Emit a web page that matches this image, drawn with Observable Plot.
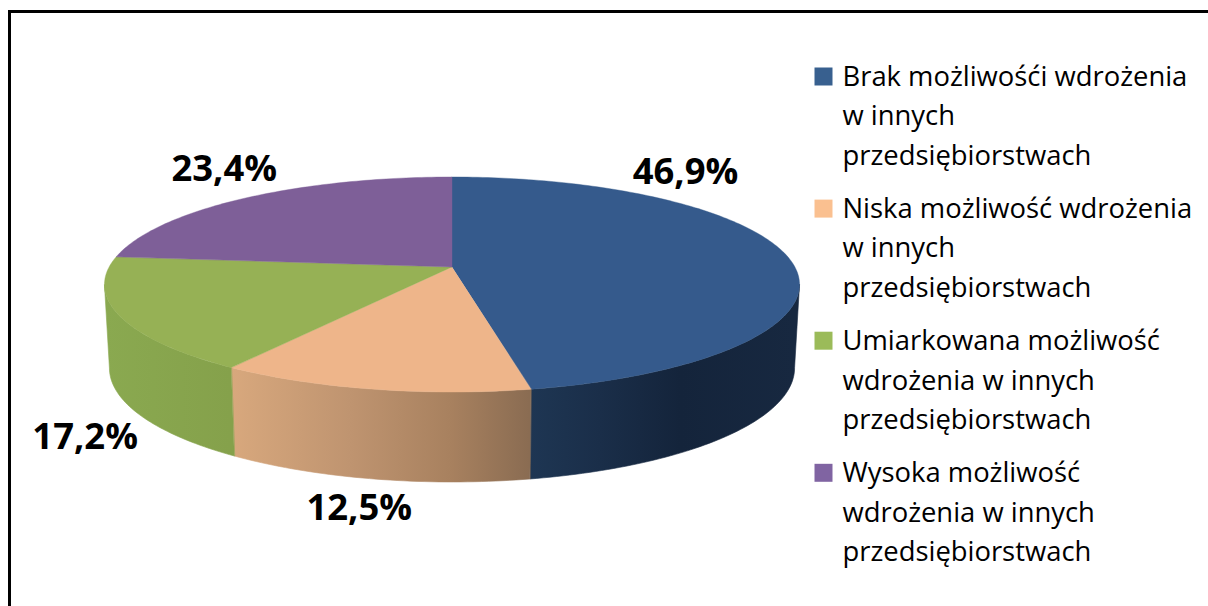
<!DOCTYPE html>
<html lang="pl">
<head>
<meta charset="utf-8">
<style>html,body{margin:0;padding:0;background:#fff}svg{display:block}</style>
<script src="https://cdn.jsdelivr.net/npm/d3@7"></script>
<script src="https://cdn.jsdelivr.net/npm/@observablehq/plot@0.6"></script>
</head>
<body>
<script>
// ---- data ----
const categories = [
  "Brak możliwośći wdrożenia\nw innych\nprzedsiębiorstwach",
  "Niska możliwość wdrożenia\nw innych\nprzedsiębiorstwach",
  "Umiarkowana możliwość\nwdrożenia w innych\nprzedsiębiorstwach",
  "Wysoka możliwość\nwdrożenia w innych\nprzedsiębiorstwach"
];
const shares = [46.9, 12.5, 17.2, 23.4];
const shareLabels = ["46,9%", "12,5%", "17,2%", "23,4%"];

// ---- styles ----
const topColors = ["#355a8c", "#eeb58a", "#96b155", "#7e5f98"];
const swatchColors = ["#38608f", "#fac090", "#9bbb59", "#8064a2"];
const sideRamps = [
  {x: [530, 600, 680, 794], c: ["#1e3653", "#1a2e49", "#14243b", "#172840"]},
  {x: [231, 350, 450, 529], c: ["#d8a87d", "#bf9470", "#a8815f", "#8a6c52"]},
  {x: [104, 231], c: ["#8aa950", "#85a14b"]},
  {x: [104, 231], c: ["#8aa950", "#85a14b"]}
];
const labelOffsets = [[-103, -85], [-13, 119], [-34, 122], [-23, -29]];

// ---- perspective model of the tilted disc (angle in degrees, clockwise from top) ----
const k = 0.1628, cx = 452;
const topDisc = {y0: 267, A: 61.2, C: 342.9};
const botDisc = {y0: 349.5, A: 54, C: 338};
function project(d, deg) {
  const t = deg * Math.PI / 180, u = Math.sin(t), v = -Math.cos(t), w = 1 - k * v;
  return {x: cx + d.C * u / w, y: (d.y0 + d.A * v) / w};
}
const seq = (a, b, step) => {
  const n = Math.max(1, Math.ceil((b - a) / step));
  return d3.range(n + 1).map(i => a + (b - a) * i / n);
};

const total = d3.sum(shares);
let acc = 0;
const slices = shares.map((s, i) => {
  const start = acc / total * 360; acc += s;
  return {i, start, end: acc / total * 360, mid: (start + (acc / total * 360)) / 2};
});

// top face: a ribbon from the apex to the rim
const faceRows = slices.flatMap(sl => seq(sl.start, sl.end, 1).map(a => {
  const p = project(topDisc, a);
  return {slice: sl.i, x1: cx, y1: topDisc.y0, x2: p.x, y2: p.y, fill: topColors[sl.i]};
}));

// visible side wall: one ribbon per slice between the top rim and the bottom rim
const tangent = Math.acos(k) * 180 / Math.PI;
const visA = 180 - tangent, visB = 180 + tangent;
const sideRows = slices.flatMap(sl => {
  const a = Math.max(sl.start, visA), b = Math.min(sl.end, visB);
  if (b <= a) return [];
  return seq(a, b, 1).map(g => {
    const t = project(topDisc, g), o = project(botDisc, g);
    return {slice: sl.i, x1: t.x, y1: t.y, x2: o.x, y2: o.y};
  });
});

const labels = slices.map(sl => {
  const p = project(topDisc, sl.mid);
  return {x: p.x, y: p.y, dx: labelOffsets[sl.i][0], dy: labelOffsets[sl.i][1], text: shareLabels[sl.i]};
});

const legendRows = categories.map((text, i) => ({
  text, fill: swatchColors[i], y: 76 + i * 132.1
}));

const legendSize = 27.4;
const legendLead = 39.3;
const legendFont = "Open Sans";

// horizontal shading of each side wall, placed through the chart's x scale
const sideGradients = (index, scales) => {
  const defs = d3.create("svg:defs");
  sideRamps.forEach((r, i) => {
    const [x0, x1] = d3.extent(r.x);
    const g = defs.append("linearGradient")
      .attr("id", `side${i}`).attr("gradientUnits", "userSpaceOnUse")
      .attr("x1", scales.x(x0)).attr("x2", scales.x(x1)).attr("y1", 0).attr("y2", 0);
    r.x.forEach((x, j) => g.append("stop")
      .attr("offset", (x - x0) / (x1 - x0)).attr("stop-color", r.c[j]));
  });
  return defs.node();
};

const sideMarks = slices.map(sl => Plot.area(sideRows.filter(d => d.slice === sl.i), {
  x1: "x1", y1: "y1", x2: "x2", y2: "y2",
  fill: `url(#side${sl.i})`, stroke: `url(#side${sl.i})`, strokeWidth: 0.6
}));

const chart = Plot.plot({
  width: 1208, height: 606,
  margin: 0,
  style: {background: "#fff", overflow: "hidden"},
  x: {domain: [0, 1208], range: [0, 1208], axis: null},
  y: {domain: [0, 606], range: [0, 606], axis: null},
  color: {type: "identity"},
  marks: [
    Plot.ruleY([11], {x1: 8, x2: 1208, stroke: "#000", strokeWidth: 3}),
    Plot.ruleX([9], {y1: 10, y2: 606, stroke: "#000", strokeWidth: 3}),
    sideGradients,
    ...sideMarks,
    Plot.area(faceRows, {x1: "x1", y1: "y1", x2: "x2", y2: "y2", z: "slice", fill: "fill", stroke: "fill", strokeWidth: 0.4}),
    ...labels.map(l => Plot.text([l], {
      x: "x", y: "y", text: "text", dx: l.dx, dy: l.dy,
      fontFamily: legendFont, fontWeight: 700, fontSize: 36.4, fill: "#000"
    })),
    Plot.dot(legendRows, {x: () => 823, y: "y", symbol: "square", r: 10.15, fill: "fill", stroke: "none"}),
    Plot.text(legendRows, {
      x: () => 842, y: d => d.y + legendLead, dy: -3, text: "text", textAnchor: "start",
      lineHeight: legendLead / legendSize, fontFamily: legendFont, fontSize: legendSize, fill: "#000"
    })
  ]
});
document.body.append(chart);
</script>
</body>
</html>
